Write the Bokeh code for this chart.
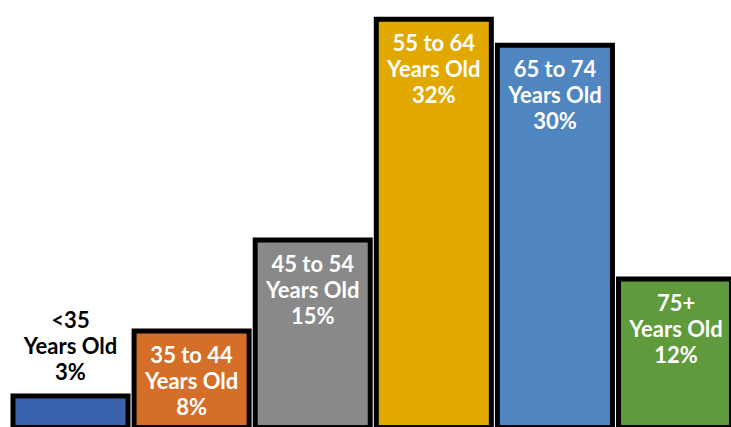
from bokeh.plotting import figure
from bokeh.models import ColumnDataSource, Range1d
from bokeh.core.properties import value
from bokeh.embed import file_html
from bokeh.resources import INLINE

# Data
groups = ["<35", "35 to 44", "45 to 54", "55 to 64", "65 to 74", "75+"]
second_line = ["Years Old"] * 6
shares = [3, 8, 15, 32, 30, 12]
colors = ["#3B63AD", "#D46E28", "#898989", "#E1A800", "#4F86C1", "#5F9A3C"]
label_inside = [False, True, True, True, True, True]

xs = list(range(len(groups)))

p = figure(width=731, height=427, output_backend="svg", toolbar_location=None,
           x_range=Range1d(-0.578, 5.458), y_range=Range1d(0.57, 33.45),
           min_border=0, min_border_left=0, min_border_right=0,
           min_border_top=0, min_border_bottom=0)
p.axis.visible = False
p.grid.visible = False
p.outline_line_color = None
p.background_fill_color = "white"
p.border_fill_color = "white"

bars = ColumnDataSource(dict(x=xs, top=shares, color=colors))
p.vbar(x="x", top="top", bottom=0, width=0.95, source=bars,
       fill_color="color", line_color="black", line_width=5, line_join="miter")

# Long-form label table: three lines per bar
lx, ly, lt, lo, lc = [], [], [], [], []
for i, (g, s2, v, inside) in enumerate(zip(groups, second_line, shares, label_inside)):
    lines = [g, s2, f"{v}%"]
    offs = [23, 49, 75] if inside else [-76, -50, -24]
    col = "white" if inside else "black"
    for t, o in zip(lines, offs):
        lx.append(i); ly.append(v); lt.append(t); lo.append(o); lc.append(col)

labels = ColumnDataSource(dict(x=lx, y=ly, text=lt, off=lo, color=lc))
p.text(x="x", y="y", text="text", y_offset="off", source=labels,
       text_color="color", text_font=value("Lato"), text_font_style="bold",
       text_font_size="22px", text_align="center", text_baseline="middle")

open("out.html", "w").write(file_html(p, INLINE))
